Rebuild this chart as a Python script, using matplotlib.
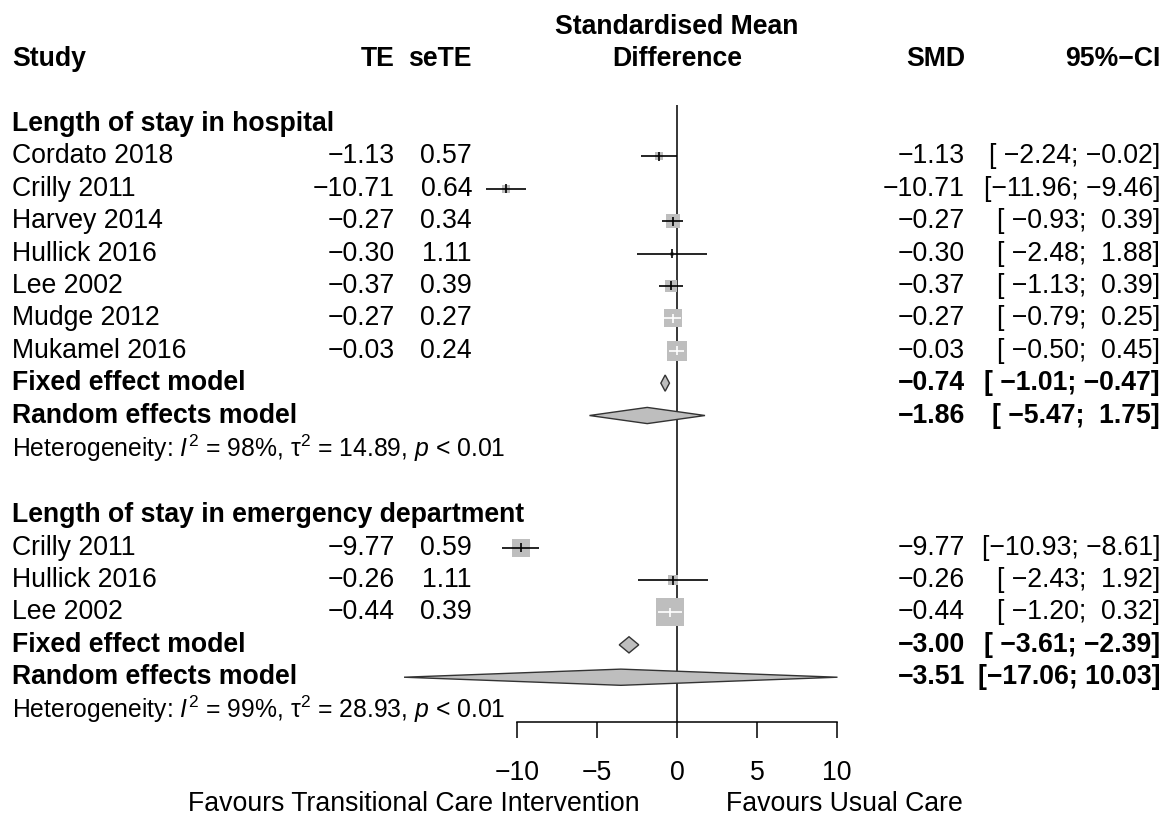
import numpy as np
import matplotlib
matplotlib.use("Agg")
import matplotlib.pyplot as plt
from matplotlib.patches import Polygon
from matplotlib.transforms import blended_transform_factory

plt.rcParams["font.family"] = ["Liberation Sans", "DejaVu Sans"]
plt.rcParams["mathtext.fontset"] = "custom"
plt.rcParams["mathtext.rm"] = "Liberation Sans"
plt.rcParams["mathtext.it"] = "Liberation Sans:italic"

# Length of stay in hospital
hosp_studies = ["Cordato 2018", "Crilly 2011", "Harvey 2014", "Hullick 2016",
                "Lee 2002", "Mudge 2012", "Mukamel 2016"]
hosp_te = [-1.13, -10.71, -0.27, -0.30, -0.37, -0.27, -0.03]
hosp_se = [0.57, 0.64, 0.34, 1.11, 0.39, 0.27, 0.24]
hosp_lo = [-2.24, -11.96, -0.93, -2.48, -1.13, -0.79, -0.50]
hosp_hi = [-0.02, -9.46, 0.39, 1.88, 0.39, 0.25, 0.45]
hosp_fixed = [-0.74, -1.01, -0.47]
hosp_random = [-1.86, -5.47, 1.75]
hosp_het = ["98%", "14.89", "0.01"]

# Length of stay in emergency department
ed_studies = ["Crilly 2011", "Hullick 2016", "Lee 2002"]
ed_te = [-9.77, -0.26, -0.44]
ed_se = [0.59, 1.11, 0.39]
ed_lo = [-10.93, -2.43, -1.20]
ed_hi = [-8.61, 1.92, 0.32]
ed_fixed = [-3.00, -3.61, -2.39]
ed_random = [-3.51, -17.06, 10.03]
ed_het = ["99%", "28.93", "0.01"]

subgroups = [
    ("Length of stay in hospital", hosp_studies, hosp_te, hosp_se, hosp_lo,
     hosp_hi, hosp_fixed, hosp_random, hosp_het),
    ("Length of stay in emergency department", ed_studies, ed_te, ed_se, ed_lo,
     ed_hi, ed_fixed, ed_random, ed_het),
]

xticks = [-10, -5, 0, 5, 10]
label_left = "Favours Transitional Care Intervention"
label_right = "Favours Usual Care"

W, H = 1169, 816
ROW0, PITCH = 124, 32.39      # pixel y of first row, pixels per row
PX_PER_UNIT = 16.0
FS = 19.2
FS_HET = 17.8
GREY = "#bebebe"


def fmt(v):
    return f"{v:.2f}".replace("-", "\u2212")


def ci_text(lo, hi):
    return "[" + fmt(lo).rjust(6) + "; " + fmt(hi).rjust(5) + "]"


fig = plt.figure(figsize=(W / 100, H / 100), dpi=100)
ax = fig.add_axes([517 / W, (H - 722) / H, 320 / W, 722 / H])
ax.set_xlim(-10, 10)
ax.set_ylim((722 - ROW0) / PITCH, -ROW0 / PITCH)
ax.patch.set_visible(False)
for s in ["top", "left", "right"]:
    ax.spines[s].set_visible(False)
ax.spines["bottom"].set_bounds(-10, 10)
ax.spines["bottom"].set_linewidth(1.1)
ax.set_xticks(xticks)
ax.set_xticklabels([str(t).replace("-", "\u2212") for t in xticks])
ax.tick_params(axis="x", length=11.5, width=1.1, pad=16, labelsize=FS)
ax.set_yticks([])

tr = blended_transform_factory(fig.transFigure, ax.transData)
X_STUDY, X_TE, X_SE, X_SMD, X_CI = 12 / W, 395 / W, 472 / W, 965 / W, 1160 / W

# headers
ax.text(X_STUDY, -2, "Study", transform=tr, ha="left", va="center", fontsize=FS, fontweight="bold")
ax.text(X_TE, -2, "TE", transform=tr, ha="right", va="center", fontsize=FS, fontweight="bold")
ax.text(X_SE, -2, "seTE", transform=tr, ha="right", va="center", fontsize=FS, fontweight="bold")
ax.text(0, -3, "Standardised Mean", ha="center", va="center", fontsize=FS, fontweight="bold")
ax.text(0, -2, "Difference", ha="center", va="center", fontsize=FS, fontweight="bold")
ax.text(X_SMD, -2, "SMD", transform=tr, ha="right", va="center", fontsize=FS, fontweight="bold")
ax.text(X_CI, -2, "95%\u2212CI", transform=tr, ha="right", va="center", fontsize=FS, fontweight="bold")

row = 0
for (title, studies, te, se, lo, hi, fixed, random, het) in subgroups:
    ax.text(X_STUDY, row, title, transform=tr, ha="left", va="center",
            fontsize=FS, fontweight="bold")
    row += 1
    inv = 1 / np.array(se) ** 2
    weights = inv / inv.sum()
    for i, name in enumerate(studies):
        ax.text(X_STUDY, row, name, transform=tr, ha="left", va="center", fontsize=FS)
        ax.text(X_TE, row, fmt(te[i]), transform=tr, ha="right", va="center", fontsize=FS)
        ax.text(X_SE, row, f"{se[i]:.2f}", transform=tr, ha="right", va="center", fontsize=FS)
        ax.text(X_SMD, row, fmt(te[i]), transform=tr, ha="right", va="center", fontsize=FS)
        ax.text(X_CI, row, ci_text(lo[i], hi[i]), transform=tr, ha="right", va="center", fontsize=FS)
        side_px = 35 * np.sqrt(weights[i])
        ax.scatter([te[i]], [row], s=(side_px * 0.72) ** 2, marker="s", color=GREY,
                   linewidths=0, zorder=2, clip_on=False)
        half = side_px / 2 / PX_PER_UNIT
        inside = lo[i] >= te[i] - half and hi[i] <= te[i] + half
        lc = "white" if inside else "black"
        ax.hlines(row, lo[i], hi[i], color=lc, lw=1.2, zorder=3, clip_on=False)
        ax.vlines(te[i], row - 0.14, row + 0.14, color=lc, lw=1.2, zorder=3, clip_on=False)
        row += 1
    for label, (est, l, h) in [("Fixed effect model", fixed), ("Random effects model", random)]:
        ax.text(X_STUDY, row, label, transform=tr, ha="left", va="center",
                fontsize=FS, fontweight="bold")
        ax.text(X_SMD, row, fmt(est), transform=tr, ha="right", va="center",
                fontsize=FS, fontweight="bold")
        ax.text(X_CI, row, ci_text(l, h), transform=tr, ha="right", va="center",
                fontsize=FS, fontweight="bold")
        ax.add_patch(Polygon([(l, row), (est, row - 0.25), (h, row), (est, row + 0.25)],
                             closed=True, facecolor=GREY, edgecolor="#333333",
                             lw=1.0, zorder=3, clip_on=False))
        row += 1
    ax.text(X_STUDY, row,
            "Heterogeneity: $I^2$ = " + het[0] + ", \u03c4$^2$ = " + het[1]
            + ", $p$ < " + het[2],
            transform=tr, ha="left", va="center", fontsize=FS_HET)
    row += 2.08

# line of no effect
ax.vlines(0, -0.59, (722 - ROW0) / PITCH, color="black", lw=1.1, zorder=1, clip_on=False)

ax.text((640 - 677) / PX_PER_UNIT, 21, label_left, ha="right", va="center", fontsize=FS)
ax.text((726 - 677) / PX_PER_UNIT, 21, label_right, ha="left", va="center", fontsize=FS)

fig.savefig("out.png", dpi=100)
